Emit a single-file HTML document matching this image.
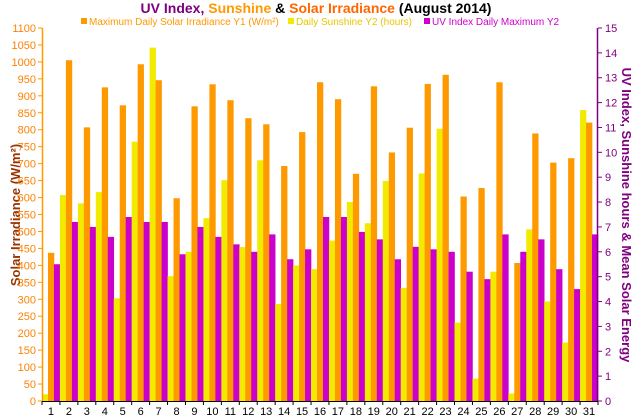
<!DOCTYPE html>
<html><head><meta charset="utf-8"><style>
body{margin:0;background:#fff;}
svg{display:block;font-family:"Liberation Sans",sans-serif;}
</style></head><body>
<svg id="chart" width="633" height="420">
<text x="316" y="13" text-anchor="middle" font-size="14" font-weight="bold"><tspan fill="#800080">UV Index, </tspan><tspan fill="#FF9900">Sunshine </tspan><tspan fill="#000">&amp; </tspan><tspan fill="#FF6600">Solar Irradiance </tspan><tspan fill="#000"> (August 2014)</tspan></text>
<g font-size="10">
<rect x="81" y="18" width="6" height="6" fill="#FF9900"/>
<text x="89" y="25" fill="#FF9900">Maximum Daily Solar Irradiance Y1 (W/m²)</text>
<rect x="288" y="18" width="6" height="6" fill="#F2EA00"/>
<text x="296" y="25" fill="#E8C800">Daily Sunshine Y2 (hours)</text>
<rect x="424" y="18" width="6" height="6" fill="#CC00CC"/>
<text x="432" y="25" fill="#CC00CC">UV Index Daily Maximum Y2</text>
</g>
<text transform="translate(20,215) rotate(-90)" text-anchor="middle" font-size="13" font-weight="bold" fill="#993300">Solar Irradiance (W/m²)</text>
<text transform="translate(622,215) rotate(90)" text-anchor="middle" font-size="13" font-weight="bold" fill="#800080">UV Index, Sunshine hours &amp; Mean Solar Energy</text>
<g id="bars"></g><g id="axes"></g>
</svg>
<script>
const days = [1,2,3,4,5,6,7,8,9,10,11,12,13,14,15,16,17,18,19,20,21,22,23,24,25,26,27,28,29,30,31];
const irradiance = [437,1005,807,925,872,993,946,598,869,934,887,834,816,693,793,940,890,670,928,733,806,935,962,603,628,940,407,789,703,716,821];
const sunshine = [0.27,8.28,7.95,8.4,4.13,10.43,14.21,5.02,6.0,7.35,8.88,6.19,9.68,3.9,5.45,5.3,6.45,8.0,7.15,8.85,4.55,9.15,10.95,3.15,0.9,5.2,0.3,6.9,4.0,2.35,11.7];
const uv = [5.5,7.2,7.0,6.6,7.4,7.2,7.2,5.9,7.0,6.6,6.3,6.0,6.7,5.7,6.1,7.4,7.4,6.8,6.5,5.7,6.2,6.1,6.0,5.2,4.9,6.7,6.0,6.5,5.3,4.5,6.7];
const y1Ticks = [0,50,100,150,200,250,300,350,400,450,500,550,600,650,700,750,800,850,900,950,1000,1050,1100];
const y2Ticks = [0,1,2,3,4,5,6,7,8,9,10,11,12,13,14,15];

const NS="http://www.w3.org/2000/svg";
const X0=42,X1=598,Y0=401,YT=28;
const slot=(X1-X0)/days.length;
const y1=v=>Y0-(v/1100)*(Y0-YT);
const y2=v=>Y0-(v/15)*(Y0-YT);
const xs=i=>X0+i*slot;
function mk(tag,attrs,parent){const e=document.createElementNS(NS,tag);for(const k in attrs)e.setAttribute(k,attrs[k]);parent.appendChild(e);return e;}
const bars=document.getElementById('bars'),axes=document.getElementById('axes');
const bw=slot/3;
days.forEach((d,i)=>{
  let r=mk('rect',{x:xs(i),y:y2(sunshine[i]),width:bw+0.3,height:Y0-y2(sunshine[i]),fill:'#F2EA00'},bars);
  
  
  r=mk('rect',{x:xs(i)+bw,y:y1(irradiance[i]),width:bw+0.3,height:Y0-y1(irradiance[i]),fill:'#FF9900'},bars);
  
  
  r=mk('rect',{x:xs(i)+2*bw,y:y2(uv[i]),width:bw+0.3,height:Y0-y2(uv[i]),fill:'#CC00CC'},bars);
  
  
  const t=mk('text',{x:xs(i)+slot/2,y:415,'text-anchor':'middle','font-size':11,fill:'#000'},axes);
  t.textContent=d;
  
  
  mk('line',{x1:xs(i),x2:xs(i),y1:Y0,y2:Y0+4,stroke:'#000'},axes);
});
mk('line',{x1:X1,x2:X1,y1:Y0,y2:Y0+4,stroke:'#000'},axes);
mk('line',{x1:X0,x2:X1,y1:Y0+0.5,y2:Y0+0.5,stroke:'#000'},axes);
mk('line',{x1:X0+0.5,x2:X0+0.5,y1:YT,y2:Y0,stroke:'#FF9900','stroke-width':1.5},axes);
mk('line',{x1:X1-0.5,x2:X1-0.5,y1:YT,y2:Y0,stroke:'#800080','stroke-width':1.5},axes);
y1Ticks.forEach(v=>{
  mk('line',{x1:X0-4,x2:X0,y1:y1(v),y2:y1(v),stroke:'#FF9900'},axes);
  const t=mk('text',{x:X0-6,y:y1(v)+4,'text-anchor':'end','font-size':11,fill:'#FF8000'},axes);
  t.textContent=v;
  
  
});
y2Ticks.forEach(v=>{
  mk('line',{x1:X1,x2:X1+4,y1:y2(v),y2:y2(v),stroke:'#800080'},axes);
  const t=mk('text',{x:X1+7,y:y2(v)+4,'font-size':11,fill:'#800080'},axes);
  t.textContent=v;
  
  
});
</script>
</body></html>
